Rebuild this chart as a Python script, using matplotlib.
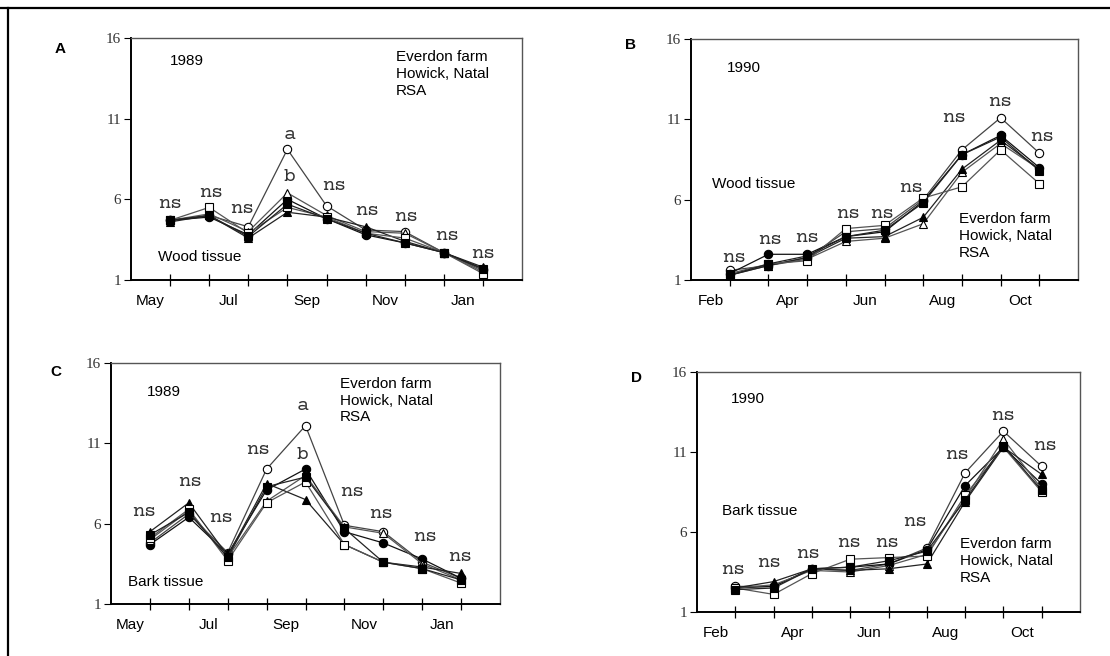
import numpy as np
import matplotlib
matplotlib.use("Agg")
from matplotlib import pyplot as plt
from matplotlib.lines import Line2D

# sampling dates (one per month), plotted at positions 1..9
visits = np.arange(1, 10)

months_89 = ['May', 'Jul', 'Sep', 'Nov', 'Jan']
months_90 = ['Feb', 'Apr', 'Jun', 'Aug', 'Oct']
month_pos = [0.5, 2.5, 4.5, 6.5, 8.5]

# A: wood tissue 1989
A_open_circle = [4.7, 5.0, 4.3, 9.1, 5.6, 4.1, 4.0, 2.7, 1.6]
A_fill_circle = [4.7, 4.9, 3.8, 6.0, 4.8, 3.8, 3.3, 2.7, 1.7]
A_open_tri = [4.7, 5.1, 4.0, 6.4, 5.0, 4.0, 3.9, 2.7, 1.5]
A_fill_tri = [4.6, 5.0, 3.6, 5.2, 4.9, 4.3, 3.4, 2.7, 1.8]
A_open_sq = [4.7, 5.5, 3.9, 5.5, 4.9, 3.9, 3.6, 2.7, 1.4]
A_fill_sq = [4.7, 5.0, 3.7, 5.7, 4.8, 3.9, 3.3, 2.7, 1.7]

# B: wood tissue 1990
B_open_circle = [1.6, 1.9, 2.4, 4.0, 4.2, 6.0, 9.1, 11.1, 8.9]
B_fill_circle = [1.4, 2.6, 2.6, 3.7, 4.0, 5.9, 8.8, 10.0, 8.0]
B_open_tri = [1.3, 1.9, 2.3, 3.4, 3.6, 4.5, 7.7, 9.5, 7.9]
B_fill_tri = [1.3, 1.9, 2.4, 3.6, 3.7, 4.9, 7.9, 9.7, 7.9]
B_open_sq = [1.4, 2.0, 2.2, 4.2, 4.4, 6.1, 6.8, 9.1, 7.0]
B_fill_sq = [1.3, 2.0, 2.5, 3.7, 4.1, 5.8, 8.8, 9.9, 7.8]

# C: bark tissue 1989
C_open_circle = [4.8, 6.6, 4.2, 9.4, 12.1, 5.9, 5.5, 3.6, 2.6]
C_fill_circle = [4.7, 6.4, 4.1, 8.1, 9.4, 5.5, 4.8, 3.8, 2.6]
C_open_tri = [5.0, 6.8, 3.9, 7.4, 9.0, 5.8, 5.4, 3.5, 2.5]
C_fill_tri = [5.5, 7.3, 4.0, 8.5, 7.5, 4.7, 3.6, 3.3, 2.9]
C_open_sq = [5.1, 6.9, 3.7, 7.3, 8.6, 4.7, 3.6, 3.2, 2.3]
C_fill_sq = [5.3, 6.7, 3.9, 8.3, 8.9, 5.7, 3.6, 3.2, 2.5]

# D: bark tissue 1990
D_open_circle = [2.6, 2.6, 3.7, 3.6, 4.0, 5.0, 9.7, 12.3, 10.1]
D_fill_circle = [2.5, 2.6, 3.7, 3.8, 4.0, 4.9, 8.9, 11.3, 9.0]
D_open_tri = [2.5, 2.7, 3.6, 3.5, 3.9, 4.6, 8.1, 11.8, 8.7]
D_fill_tri = [2.5, 2.9, 3.7, 3.6, 3.7, 4.0, 7.9, 11.3, 9.6]
D_open_sq = [2.5, 2.1, 3.4, 4.3, 4.4, 4.5, 8.3, 11.3, 8.5]
D_fill_sq = [2.4, 2.5, 3.7, 3.8, 4.2, 4.8, 8.0, 11.4, 8.6]

# significance letters
A_sig = ['ns', 'ns', 'ns', 'a', 'b', 'ns', 'ns', 'ns', 'ns', 'ns']
A_sig_x = [1.0, 2.05, 2.85, 4.05, 4.05, 5.2, 6.05, 7.05, 8.1, 9.0]
A_sig_y = [5.7, 6.4, 5.4, 10.0, 7.4, 6.8, 5.3, 4.9, 3.7, 2.6]
B_sig = ['ns'] * 9
B_sig_x = [1.13, 2.06, 3.0, 4.06, 4.94, 5.7, 6.8, 8.0, 9.08]
B_sig_y = [2.4, 3.5, 3.6, 5.1, 5.1, 6.7, 11.1, 12.1, 9.9]
C_sig = ['ns', 'ns', 'ns', 'ns', 'a', 'b', 'ns', 'ns', 'ns', 'ns']
C_sig_x = [0.85, 2.03, 2.85, 3.8, 4.92, 4.92, 6.2, 6.94, 8.07, 8.97]
C_sig_y = [6.7, 8.6, 6.35, 10.6, 13.3, 10.3, 8.0, 6.6, 5.2, 3.9]
D_sig = ['ns'] * 9
D_sig_x = [0.95, 1.9, 2.9, 3.99, 4.96, 5.7, 6.8, 8.0, 9.1]
D_sig_y = [3.6, 4.05, 4.6, 5.3, 5.3, 6.6, 10.8, 13.25, 11.4]

# marker, face colour, line colour
styles = [('o', 'white', '#444444'),
          ('o', 'black', '#111111'),
          ('^', 'white', '#555555'),
          ('^', 'black', '#222222'),
          ('s', 'white', '#555555'),
          ('s', 'black', '#222222')]

W, H = 1110, 656
fig = plt.figure(figsize=(W / 100, H / 100), dpi=100)
fig.patch.set_facecolor('white')

sans = 'Liberation Sans'
typewriter = ['Courier Prime', 'Nimbus Mono PS', 'FreeMono', 'DejaVu Serif']


def make_panel(px, series, sig, sig_x, sig_y, months, letter, letter_xy,
               year, year_xy, tissue, tissue_xy, farm_xy):
    l, t, r, b = px
    ax = fig.add_axes([l / W, 1 - b / H, (r - l) / W, (b - t) / H])
    for vals, (m, fc, lc) in zip(series, styles):
        ax.plot(visits, vals, color=lc, lw=0.9, marker=m, ms=6,
                mfc=fc, mec='black', mew=0.8, zorder=3)
    for s, x, y in zip(sig, sig_x, sig_y):
        ax.text(x, y, s, ha='center', va='center', fontsize=14.5,
                family=typewriter, color='#333333')
    ax.set_xlim(0, 10)
    ax.set_ylim(1, 16)
    ax.set_yticks([1, 6, 11, 16])
    ax.set_xticks(visits)
    ax.set_xticklabels([])
    ax.set_xticks(month_pos, minor=True)
    ax.set_xticklabels(months, minor=True, fontsize=11, family=sans)
    ax.tick_params(axis='x', which='major', direction='inout', length=9,
                   width=0.9)
    ax.tick_params(axis='x', which='minor', length=0, pad=10)
    ax.tick_params(axis='y', direction='out', length=5, width=0.8, pad=2,
                   labelsize=11)
    for lab in ax.get_yticklabels():
        lab.set_family('Liberation Serif')
        lab.set_color('#333333')
    for side in ['left', 'bottom']:
        ax.spines[side].set_linewidth(1.4)
        ax.spines[side].set_color('black')
    for side in ['top', 'right']:
        ax.spines[side].set_linewidth(1.0)
        ax.spines[side].set_color('#555555')
    ax.text(year_xy[0], year_xy[1], year, transform=ax.transAxes,
            ha='center', va='center', fontsize=11, family=sans)
    ax.text(tissue_xy[0], tissue_xy[1], tissue, transform=ax.transAxes,
            ha='left', va='center', fontsize=11, family=sans)
    ax.text(farm_xy[0], farm_xy[1], 'Everdon farm\nHowick, Natal\nRSA',
            transform=ax.transAxes, ha='left', va='top', fontsize=11,
            family=sans, linespacing=1.25)
    fig.text(letter_xy[0], letter_xy[1], letter, fontsize=11,
             fontweight='bold', family=sans, ha='center', va='center')
    return ax


make_panel((131, 38, 522, 280),
           [A_open_circle, A_fill_circle, A_open_tri, A_fill_tri, A_open_sq, A_fill_sq],
           A_sig, A_sig_x, A_sig_y, months_89, 'A', (0.054, 0.925),
           '1989', (0.143, 0.905), 'Wood tissue', (0.069, 0.095), (0.678, 0.95))
make_panel((691, 39, 1078, 280),
           [B_open_circle, B_fill_circle, B_open_tri, B_fill_tri, B_open_sq, B_fill_sq],
           B_sig, B_sig_x, B_sig_y, months_90, 'B', (0.568, 0.931),
           '1990', (0.137, 0.88), 'Wood tissue', (0.054, 0.398), (0.693, 0.282))
make_panel((111, 363, 500, 604),
           [C_open_circle, C_fill_circle, C_open_tri, C_fill_tri, C_open_sq, C_fill_sq],
           C_sig, C_sig_x, C_sig_y, months_89, 'C', (0.050, 0.433),
           '1989', (0.136, 0.88), 'Bark tissue', (0.044, 0.091), (0.589, 0.942))
make_panel((697, 372, 1080, 612),
           [D_open_circle, D_fill_circle, D_open_tri, D_fill_tri, D_open_sq, D_fill_sq],
           D_sig, D_sig_x, D_sig_y, months_90, 'D', (0.573, 0.424),
           '1990', (0.133, 0.8875), 'Bark tissue', (0.065, 0.42), (0.687, 0.3125))

# page frame from the scan
fig.add_artist(Line2D([0, 1], [1 - 8 / H, 1 - 8 / H], color='black', lw=1.6,
                      transform=fig.transFigure))
fig.add_artist(Line2D([8 / W, 8 / W], [0, 1 - 8 / H], color='black', lw=1.6,
                      transform=fig.transFigure))

fig.savefig('out.png', dpi=100)
